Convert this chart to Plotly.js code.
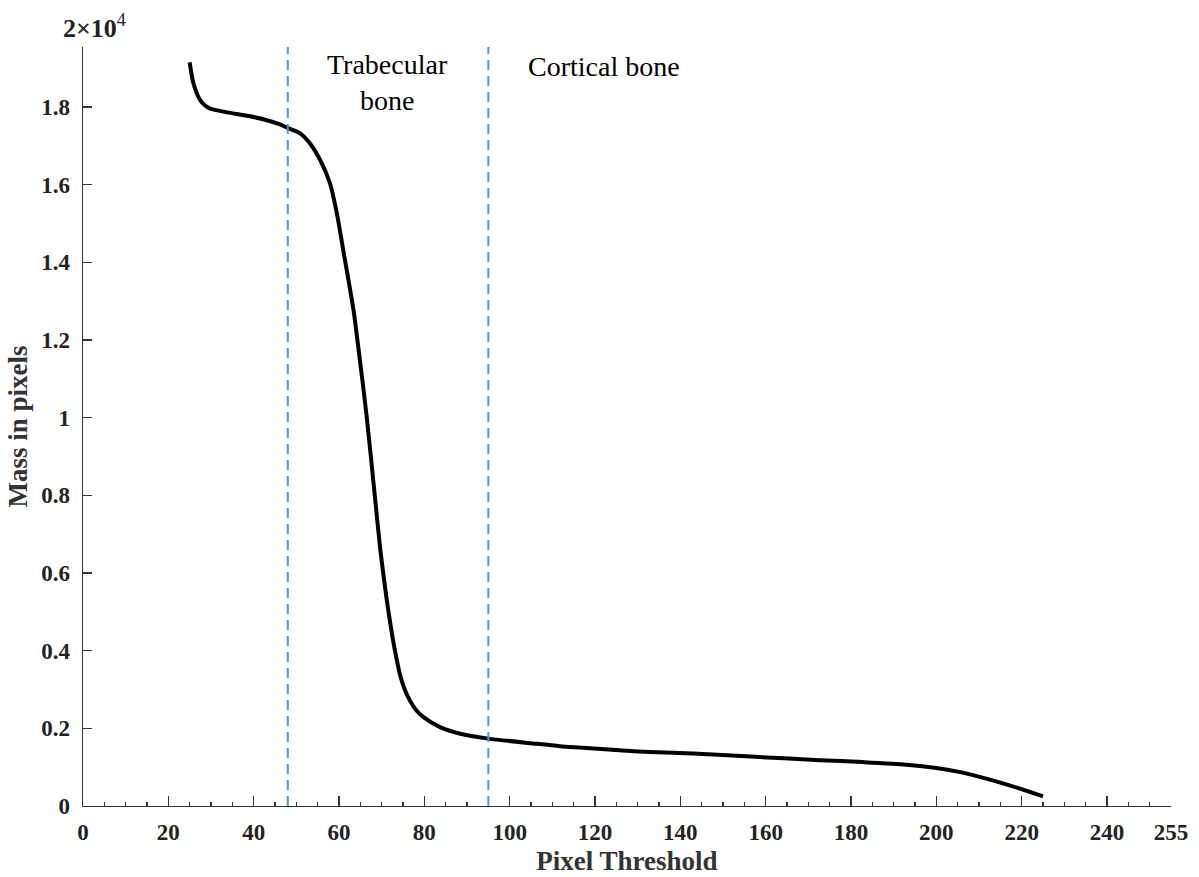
<!DOCTYPE html>
<html>
<head>
<meta charset="utf-8">
<script src="https://cdn.plot.ly/plotly-3.0.1.min.js"></script>
<style>
html,body{margin:0;padding:0;background:#fff;}
#chart{width:1199px;height:877px;}
</style>
</head>
<body>
<div id="chart"></div>
<script>
// Curve (pixel threshold vs mass in pixels)
const thresholds = [25, 25.9, 27.5, 28.6, 29.8, 31.2, 32.9, 36.0, 39.2, 43.1, 46.0, 47.8, 49.4, 50.9, 53.2, 55.6, 57.9, 59.5, 61.0, 63.4, 64.9, 66.5, 68.5, 69.7, 71.2, 72.4, 73.4, 74.3, 75.4, 76.6, 78.0, 79.8, 83.7, 88.4, 95, 105.5, 111.8, 117.2, 127.4, 132.9, 143, 158.6, 172.7, 182.8, 193, 200, 206.2, 211.7, 217.9, 225];
const massPixels = [19150, 18600, 18170, 18040, 17960, 17920, 17880, 17820, 17760, 17660, 17560, 17470, 17400, 17320, 17060, 16630, 16030, 15260, 14310, 12770, 11480, 10020, 7870, 6580, 5300, 4440, 3840, 3380, 3000, 2720, 2480, 2290, 2030, 1860, 1735, 1610, 1540, 1500, 1420, 1390, 1350, 1260, 1180, 1130, 1065, 980, 860, 705, 507, 250];

// Region boundaries
const boundaries = [48, 95];
const regionLabels = ["Trabecular<br>bone", "Cortical bone"];
const regionLabelX = [71.3, 122.2];

// Tick labels
const xTickVals = [0, 20, 40, 60, 80, 100, 120, 140, 160, 180, 200, 220, 240, 255];
const xTickText = ["0", "20", "40", "60", "80", "100", "120", "140", "160", "180", "200", "220", "240", "255"];
const yTickVals = [0, 2000, 4000, 6000, 8000, 10000, 12000, 14000, 16000, 18000];
const yTickText = ["0", "0.2", "0.4", "0.6", "0.8", "1", "1.2", "1.4", "1.6", "1.8"];
const yExponentLabel = "<b>2\u00d710</b><sup>4</sup>";

const yMax = 19545;
const minorX = [];
for (let v = 5; v < 255; v += 5) { if (v % 20 !== 0) minorX.push(v); }

const serif = "Liberation Serif";

const traces = [{
  x: thresholds,
  y: massPixels,
  type: "scatter",
  mode: "lines",
  line: {color: "#000000", width: 4, shape: "spline", smoothing: 0.7},
  hoverinfo: "x+y",
  showlegend: false
}];

const shapes = boundaries.map(b => ({
  type: "line", xref: "x", yref: "paper",
  x0: b, x1: b, y0: 0, y1: 1,
  line: {color: "#4a94dc", width: 2, dash: "10px,6px"}
}));

const annotations = [
  {xref: "x", yref: "paper", x: regionLabelX[0], y: 1.0, text: regionLabels[0], showarrow: false,
   yanchor: "top", align: "center", font: {family: serif, size: 28, color: "#000"}},
  {xref: "x", yref: "paper", x: regionLabelX[1], y: 0.998, text: regionLabels[1], showarrow: false,
   yanchor: "top", align: "center", font: {family: serif, size: 28, color: "#000"}},
  {xref: "paper", yref: "paper", x: 0.011, y: 1.027, text: yExponentLabel, showarrow: false,
   xanchor: "center", yanchor: "middle", font: {family: serif, size: 26, color: "#222"}}
];

const layout = {
  width: 1199, height: 877,
  margin: {l: 83, r: 28, t: 47, b: 71, pad: 0},
  paper_bgcolor: "#ffffff", plot_bgcolor: "#ffffff",
  font: {family: serif, color: "#222"},
  xaxis: {
    range: [0, 255], showgrid: false, zeroline: false,
    showline: true, linecolor: "#333", linewidth: 1.3, mirror: false,
    tickmode: "array", tickvals: xTickVals, ticktext: xTickText,
    ticks: "inside", ticklen: 10, tickwidth: 1.3, tickcolor: "#333",
    ticklabelstandoff: 5,
    minor: {tickmode: "array", tickvals: minorX, ticks: "inside", ticklen: 4, tickwidth: 1.3, tickcolor: "#333"},
    tickfont: {family: serif, size: 23, color: "#222", weight: "bold"},
    title: {text: "<b>Pixel Threshold</b>", font: {family: serif, size: 27, color: "#333"}, standoff: 7}
  },
  yaxis: {
    range: [0, yMax], showgrid: false, zeroline: false,
    showline: true, linecolor: "#333", linewidth: 1.3,
    tickmode: "array", tickvals: yTickVals, ticktext: yTickText,
    ticks: "inside", ticklen: 9, tickwidth: 1.3, tickcolor: "#333",
    ticklabelstandoff: 7,
    tickfont: {family: serif, size: 23, color: "#222", weight: "bold"},
    title: {text: "<b>Mass in pixels</b>", font: {family: serif, size: 27, color: "#333"}, standoff: 6}
  },
  shapes: shapes,
  annotations: annotations
};

Plotly.newPlot("chart", traces, layout, {displayModeBar: false, staticPlot: true});
</script>
</body>
</html>
